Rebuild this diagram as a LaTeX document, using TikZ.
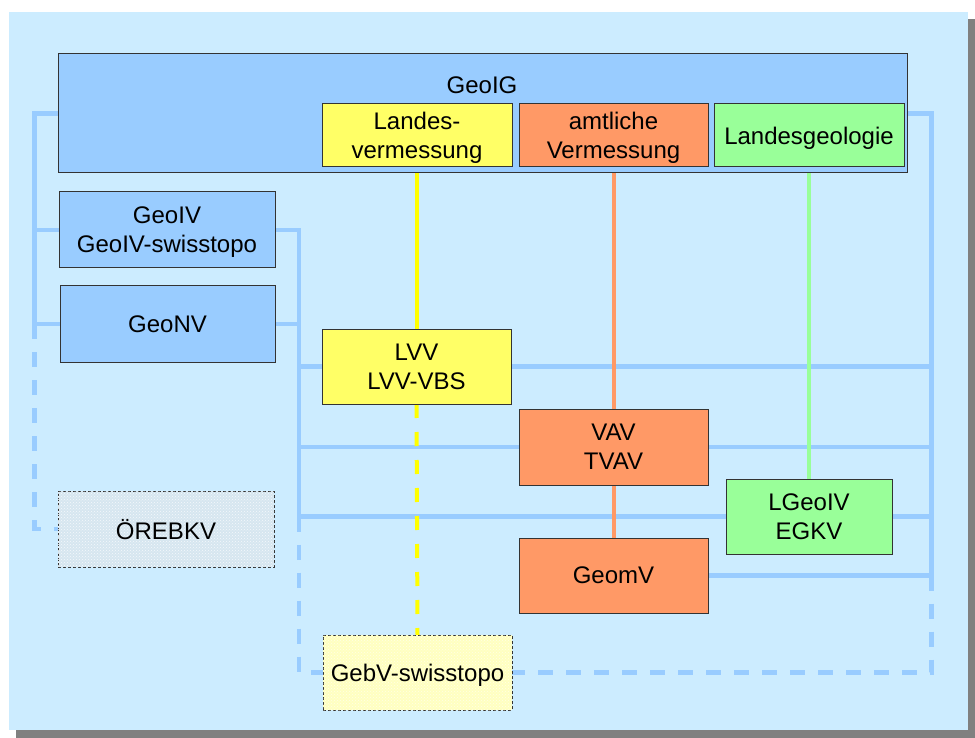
\documentclass[tikz,border=0pt]{standalone}
\usepackage{fontspec}
\setmainfont{Liberation Sans}
\usetikzlibrary{patterns}

\definecolor{pagebg}{HTML}{CCECFF}
\definecolor{shadowgray}{HTML}{808080}
\definecolor{boxblue}{HTML}{99CCFF}
\definecolor{boxyellow}{HTML}{FFFF66}
\definecolor{boxorange}{HTML}{FF9966}
\definecolor{boxgreen}{HTML}{99FF99}
\definecolor{busblue}{HTML}{99CCFF}
\definecolor{lineyellow}{HTML}{FFFF00}
\definecolor{greyfill}{HTML}{D6E6F0}
\definecolor{paleyellow}{HTML}{FFFFC0}

\pgfdeclarelayer{backdrop}
\pgfdeclarelayer{wires}
\pgfsetlayers{backdrop,wires,main}

\begin{document}
\begin{tikzpicture}[x=1pt, y=-1pt,
  box/.style={draw=black!80, line width=1pt, inner sep=0pt, outer sep=0pt,
    align=center, text depth=-4pt, font=\fontsize{24}{29}\selectfont},
  wide/.style={minimum width=189pt, minimum height=75pt},
  tab/.style={minimum width=190pt, minimum height=63pt},
  side/.style={minimum width=216pt, minimum height=76pt},
  planned/.style={dash pattern=on 3pt off 2pt},
  bus/.style={draw=busblue, line width=4.5pt},
  busdash/.style={bus, dash pattern=on 15pt off 13pt},
  yline/.style={draw=lineyellow, line width=4pt},
  yldash/.style={yline, dash pattern=on 14pt off 14pt},
  oline/.style={draw=boxorange, line width=4pt},
  gline/.style={draw=boxgreen, line width=4pt}]

\useasboundingbox (0,0) rectangle (975,738);

\begin{pgfonlayer}{backdrop}
  \fill[shadowgray] (16,19) rectangle (975,738);
  \fill[pagebg] (9,12) rectangle (968,730);
\end{pgfonlayer}

% law / ordinance boxes
\node[box, fill=boxblue, minimum width=849pt, minimum height=119pt] (geoig) at (482.5,113.5) {};
\node[anchor=base, font=\fontsize{24}{29}\selectfont] (geoigname) at (482,94) {GeoIG};
\node[box, tab, fill=boxyellow] (landes) at (417,135.5) {Landes-\\vermessung};
\node[box, tab, fill=boxorange, minimum width=189pt] (amtl) at (613.5,135.5) {amtliche\\Vermessung};
\node[box, tab, fill=boxgreen] (lgeol) at (809,135.5) {Landesgeologie};

\node[box, side, fill=boxblue] (geoiv) at (167,230) {GeoIV\\GeoIV-swisstopo};
\node[box, side, fill=boxblue, minimum width=215pt] (geonv) at (167.5,324) {GeoNV};
\node[box, side, planned, fill=greyfill,
  postaction={pattern=crosshatch dots, pattern color=white!75!greyfill}] (oreb) at (166,529) {ÖREBKV};

\node[box, wide, fill=boxyellow] (lvv) at (416.5,366.5) {LVV\\LVV-VBS};
\node[box, wide, fill=boxorange, minimum height=76pt] (vav) at (613.5,447) {VAV\\TVAV};
\node[box, wide, fill=boxgreen, minimum width=166pt] (lgeoiv) at (809,516.5) {LGeoIV\\EGKV};
\node[box, wide, fill=boxorange] (geomv) at (613.5,575.5) {GeomV};
\node[box, wide, planned, fill=paleyellow,
  postaction={pattern=crosshatch dots, pattern color=white!60!paleyellow}] (gebv) at (417.5,672.5) {GebV-swisstopo};

% bus corners and junctions
\coordinate (lb1) at (34.5,113.5);
\coordinate (lb3) at (34.5,324);
\coordinate (lb4) at (34.5,529);
\coordinate (mb1) at (299,230);
\coordinate (mb5) at (299,516.5);
\coordinate (mb6) at (299,672.5);
\coordinate (rb1) at (931.5,113.5);
\coordinate (rb5) at (931.5,575.5);
\coordinate (rb6) at (931.5,672.5);

\begin{pgfonlayer}{wires}
  % left bus
  \draw[bus] (geoig.west) -- (lb1) -- (lb3) -- (geonv.west);
  \draw[bus] (geoiv.west) -- (geoiv.west -| lb1);
  \draw[busdash] (lb3) -- (lb4) -- (oreb.west);
  % middle bus
  \draw[bus] (geoiv.east) -- (mb1) -- (mb5) -- (lgeoiv.west);
  \draw[bus] (geonv.east) -- (geonv.east -| mb1);
  \draw[bus] (lvv.west -| mb1) -- (lvv.west);
  \draw[bus] (vav.west -| mb1) -- (vav.west);
  \draw[busdash] (mb5) -- (mb6) -- (gebv.west);
  % right bus
  \draw[bus] (geoig.east) -- (rb1) -- (rb5) -- (geomv.east);
  \draw[bus] (lvv.east) -- (lvv.east -| rb1);
  \draw[bus] (vav.east) -- (vav.east -| rb1);
  \draw[bus] (lgeoiv.east) -- (lgeoiv.east -| rb1);
  \draw[busdash] (rb5) -- (rb6) -- (gebv.east);
  % topic lines
  \draw[yline] (landes.south) -- (landes.south |- lvv.north);
  \draw[yldash] (lvv.south) -- (gebv.north);
  \draw[oline] (amtl.south) -- (vav.north);
  \draw[oline] (vav.south) -- (geomv.north);
  \draw[gline] (lgeol.south) -- (lgeoiv.north);
\end{pgfonlayer}
\end{tikzpicture}
\end{document}
